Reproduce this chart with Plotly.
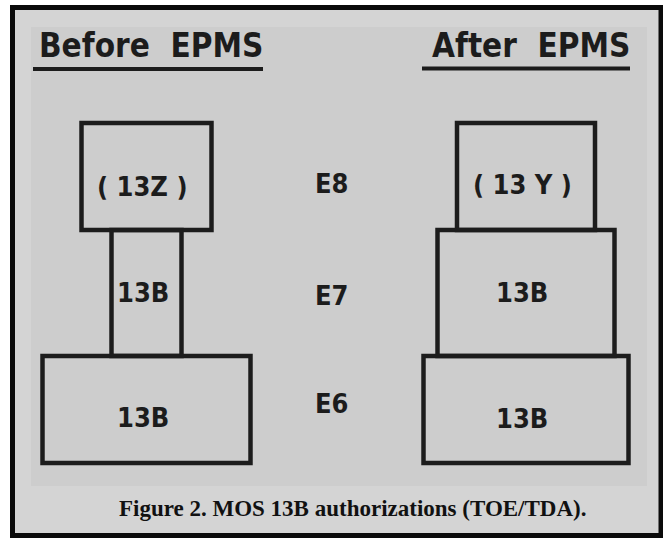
import plotly.graph_objects as go

# ---- data ----
grades = ["E6", "E7", "E8"]
before_widths = [208, 70, 130]
after_widths = [205, 177, 138]
before_labels = ["13B", "13B", "( 13Z )"]
after_labels = ["13B", "13B", "( 13 Y )"]
panel_titles = ["Before\u00a0\u00a0EPMS", "After\u00a0\u00a0EPMS"]
caption = "Figure 2. MOS 13B authorizations (TOE/TDA)."

# ---- layout helpers ----
W, H = 663, 538
def px(x):
    return x / W
def py(y):
    return 1 - y / H

band = [0.944, 1.112, 0.944]          # relative box heights (style)
offsets = []
start = -0.5
for i, b in enumerate(band):
    offsets.append(start - i)
    start += b

ink = "#1c1c1c"
FONT_COND = "DejaVu Sans Condensed, Liberation Sans Narrow, Arial Narrow, sans-serif"

fig = go.Figure()
for widths, xa in [(before_widths, "x"), (after_widths, "x2")]:
    fig.add_trace(go.Bar(
        orientation="h",
        y=grades,
        x=widths,
        base=[-w / 2 for w in widths],
        width=band,
        offset=offsets,
        xaxis=xa, yaxis="y",
        marker=dict(color="rgba(0,0,0,0)", line=dict(color=ink, width=4.5)),
        cliponaxis=False,
        showlegend=False,
        hoverinfo="skip",
    ))

pad = 0.05
unit = 340 / 3
half = 130
fig.update_layout(
    width=W, height=H,
    margin=dict(l=0, r=0, t=0, b=0),
    paper_bgcolor="white",
    plot_bgcolor="rgba(0,0,0,0)",
    xaxis=dict(domain=[px(146.5 - half), px(146.5 + half)], range=[-half, half],
               visible=False, fixedrange=True),
    xaxis2=dict(domain=[px(526 - half), px(526 + half)], range=[-half, half],
                visible=False, anchor="y", fixedrange=True),
    yaxis=dict(type="category", categoryorder="array", categoryarray=grades,
               range=[-0.5 - pad, 2.5 + pad],
               domain=[py(463 + pad * unit), py(123 - pad * unit)],
               visible=False, fixedrange=True),
    barmode="overlay",
)

shapes = [
    dict(type="rect", xref="paper", yref="paper", layer="below",
         x0=px(12.5), x1=px(661), y0=py(535.5), y1=py(7.5),
         fillcolor="#d4d4d4", line=dict(color="#0a0a0a", width=5)),
    dict(type="rect", xref="paper", yref="paper", layer="below",
         x0=px(31), x1=px(647), y0=py(486), y1=py(27),
         fillcolor="#cdcdcd", line=dict(width=0)),
    dict(type="line", xref="paper", yref="paper",
         x0=px(33), x1=px(263), y0=py(69), y1=py(69),
         line=dict(color=ink, width=4)),
    dict(type="line", xref="paper", yref="paper",
         x0=px(422), x1=px(630), y0=py(68.5), y1=py(68.5),
         line=dict(color=ink, width=4)),
]
fig.update_layout(shapes=shapes)

ann = []
for t, cx in zip(panel_titles, [151, 531]):
    ann.append(dict(text=t, xref="paper", yref="paper", x=px(cx), y=py(46),
                    xanchor="center", yanchor="middle", showarrow=False,
                    font=dict(family=FONT_COND, size=33, color=ink, weight="bold")))
g_shift = [3, -2, -4]
for g, s in zip(grades, g_shift):
    ann.append(dict(text=g, xref="paper", yref="y", x=px(331.5), y=g, yshift=s,
                    xanchor="center", yanchor="middle", showarrow=False,
                    font=dict(family=FONT_COND, size=27, color=ink, weight="bold")))
l_shift = [-11, 1, -7]
r_shift = [-12, 1, -5]
for labels, xa, shifts in [(before_labels, "x", l_shift), (after_labels, "x2", r_shift)]:
    for g, lab, s in zip(grades, labels, shifts):
        ann.append(dict(text=lab, xref=xa, yref="y", x=0, y=g, xshift=-4, yshift=s,
                        xanchor="center", yanchor="middle", showarrow=False,
                        font=dict(family=FONT_COND, size=27, color=ink, weight="bold")))
ann.append(dict(text="<b>" + caption + "</b>", xref="paper", yref="paper",
                x=px(352), y=py(508), xanchor="center", yanchor="middle",
                showarrow=False,
                font=dict(family="Liberation Serif", size=23, color="#111111")))
fig.update_layout(annotations=ann)

fig.write_html("out.html", config={"displayModeBar": False},
               post_script="document.body.style.margin='0';document.body.style.overflow='hidden';")
